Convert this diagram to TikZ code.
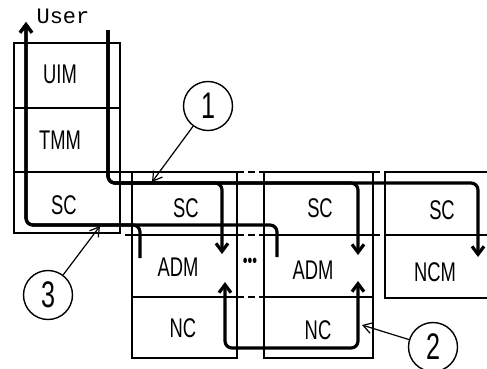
\documentclass[tikz,border=0pt]{standalone}
\usepackage{fontspec}
\setmainfont{Liberation Sans}[FakeStretch=0.68]
\newfontfamily\userfont{Liberation Mono}
\usetikzlibrary{arrows.meta}

\begin{document}
\begin{tikzpicture}[x=1pt, y=-1pt,
    >={Straight Barb[length=8pt, width=12pt]},
    box/.style={line width=1.6pt},
    gap/.style={line width=1.6pt, dash pattern=on 7pt off 4pt},
    flow/.style={line width=3.2pt, rounded corners=7pt},
    lbl/.style={font=\fontsize{27}{27}\selectfont, inner sep=0pt},
    num/.style={draw, circle, line width=1.4pt, minimum size=49pt, inner sep=0pt, font=\fontsize{37}{37}\selectfont},
    lead/.style={line width=1.2pt, -{Straight Barb[length=9pt, width=11pt]}}]
        \useasboundingbox (0,0) rectangle (487,368);

        % Left stack
        \draw[box] (14,43) rectangle (120,233);
        \draw[box] (14,108) -- (120,108);

        % Layer lines across the stacks
        \draw[box] (14,172) -- (237,172);
        \draw[gap] (237,172) -- (264,172);
        \draw[box] (264,172) -- (373,172);
        \draw[gap] (373,172) -- (385,172);
        \draw[box] (385,172) -- (487,172);
        \draw[box] (125,235) -- (237,235);
        \draw[gap] (237,235) -- (264,235);
        \draw[box] (264,235) -- (373,235);
        \draw[gap] (373,235) -- (385,235);
        \draw[box] (385,235) -- (487,235);
        \draw[box] (132,297) -- (237,297);
        \draw[gap] (237,297) -- (264,297);
        \draw[box] (264,297) -- (373,297);

        % Right stacks
        \draw[box] (132,172) -- (132,358) -- (237,358) -- (237,172);
        \draw[box] (264,172) -- (264,358) -- (373,358) -- (373,172);
        \draw[box] (385,172) -- (385,298) -- (487,298);

        % Module labels
        \node[font=\userfont\fontsize{22}{22}\selectfont, inner sep=0pt] (user) at (63,16) {User};
        \node[lbl] (uim) at (60,74) {UIM};
        \node[lbl] (tmm) at (60,140) {TMM};
        \node[lbl] (sc0) at (64,205) {SC};
        \node[lbl] (sc1) at (186,208) {SC};
        \node[lbl] (adm1) at (178,267) {ADM};
        \node[lbl] (nc1) at (183,328) {NC};
        \node[lbl] (sc2) at (320,208) {SC};
        \node[lbl] (adm2) at (313,270) {ADM};
        \node[lbl] (nc2) at (318,330) {NC};
        \node[lbl] (sc3) at (442,210) {SC};
        \node[lbl] (ncm) at (435,272) {NCM};
        \node[font=\fontsize{20}{20}\selectfont, inner sep=0pt] (dots) at (250,263) {•••};

        % Flow ends
        \coordinate (top-in) at (108,30);
        \coordinate (down-bus) at (108,183);
        \coordinate (adm1-in) at (222,254);
        \coordinate (adm2-in) at (358,255);
        \coordinate (ncm-in) at (478,257);
        \coordinate (adm1-out) at (140,258);
        \coordinate (adm2-out) at (277,257);
        \coordinate (up-bus) at (26,225);
        \coordinate (top-out) at (26,22);
        \coordinate (nc-left) at (225,282);
        \coordinate (nc-bus) at (225,348);
        \coordinate (nc-right) at (358,281);

        % Flows
        \draw[flow, ->] (top-in) -- (down-bus) -| (adm1-in);
        \draw[flow, ->] (top-in) -- (down-bus) -| (adm2-in);
        \draw[flow, ->] (top-in) -- (down-bus) -| (ncm-in);
        \draw[flow, ->] (adm1-out) |- (up-bus) -- (top-out);
        \draw[flow, ->] (adm2-out) |- (up-bus) -- (top-out);
        \draw[flow, <->] (nc-left) -- (nc-bus) -| (nc-right);

        % Numbered callouts
        \node[num] (n1) at (208,106) {1};
        \node[num] (n2) at (433,347) {2};
        \node[num] (n3) at (48,295) {3};
        \coordinate (t1) at (152,182);
        \coordinate (t2) at (362,325);
        \coordinate (t3) at (100,226);
        \draw[lead] (n1) -- (t1);
        \draw[lead] (n2) -- (t2);
        \draw[lead] (n3) -- (t3);
    \end{tikzpicture}
\end{document}
